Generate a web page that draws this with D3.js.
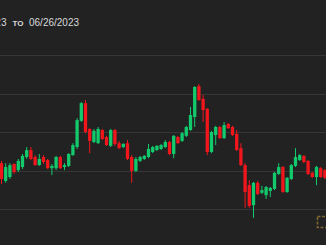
<!DOCTYPE html>
<html>
<head>
<meta charset="utf-8">
<script src="https://cdn.jsdelivr.net/npm/d3@7"></script>
<style>
  html, body { margin: 0; padding: 0; background: #222222; overflow: hidden; }
</style>
</head>
<body>
<div id="chart"></div>
<script>
// period label, the start date is clipped off at the left edge
var rangeFrom = "03/28/2023";
var rangeTo = "06/26/2023";

// price gridlines
var gridLevels = [10, 20, 30, 40, 50];

// daily candles
var opens  = [21.9, 17.3, 18.3, 21.7, 20.1, 20.9, 23.5, 25.3, 23.5, 21.4,
              23.5, 22.7, 20.6, 20.6, 23.5, 20.9, 21.2, 24.0, 26.1, 32.9,
              37.5, 30.8, 27.4, 27.1, 30.5, 28.7, 26.4, 30.5, 27.1, 26.1,
              27.1, 23.5, 19.9, 22.5, 23.0, 23.5, 24.8, 25.3, 25.6, 26.1,
              27.4, 24.3, 28.7, 27.7, 29.0, 30.5, 33.9, 41.9, 38.6, 36.0,
              24.8, 29.2, 31.3, 28.4, 32.1, 31.3, 29.5, 25.8, 21.4, 16.2,
              11.0, 16.8, 14.2, 13.6, 14.7, 15.2, 19.1, 20.9, 14.4, 17.8,
              21.2, 22.7, 23.8, 22.5, 19.4, 18.3, 20.6, 20.1];
var highs  = [22.5, 21.9, 21.9, 21.9, 23.0, 24.3, 26.1, 26.1, 24.0, 24.3,
              24.0, 23.0, 21.7, 23.8, 23.8, 21.9, 24.5, 27.1, 33.6, 37.8,
              38.3, 31.0, 30.8, 31.3, 30.8, 29.0, 30.8, 30.8, 27.7, 27.1,
              27.9, 24.0, 23.5, 23.8, 24.0, 26.9, 26.4, 26.6, 26.9, 27.9,
              27.7, 29.2, 29.0, 30.0, 31.6, 36.5, 41.9, 42.5, 39.6, 36.2,
              30.3, 31.6, 31.6, 32.6, 32.3, 31.6, 30.5, 27.1, 21.9, 17.5,
              17.0, 17.3, 16.0, 16.0, 15.7, 19.6, 21.9, 21.2, 18.3, 21.7,
              25.8, 24.3, 24.0, 22.7, 19.6, 21.2, 20.9, 20.4];
var lows   = [16.5, 16.8, 17.8, 19.1, 19.6, 20.4, 23.0, 22.7, 21.2, 21.2,
              21.7, 20.4, 18.8, 20.1, 20.4, 20.1, 20.9, 23.8, 25.6, 32.6,
              29.7, 24.5, 27.1, 26.9, 27.9, 26.4, 26.1, 26.4, 25.6, 25.8,
              22.7, 16.8, 19.6, 22.2, 22.7, 23.2, 24.5, 25.1, 25.3, 25.8,
              24.0, 23.2, 26.9, 27.4, 28.7, 30.3, 31.3, 38.1, 32.6, 24.0,
              24.5, 26.6, 28.2, 28.2, 30.8, 29.0, 25.1, 21.2, 10.3, 10.3,
               7.7, 13.6, 13.9, 12.6, 13.1, 14.9, 18.8, 14.2, 14.2, 17.5,
              20.9, 22.5, 21.9, 18.8, 18.1, 16.2, 18.1, 17.8];
var closes = [17.8, 20.9, 21.4, 19.6, 22.5, 23.8, 25.3, 23.0, 21.4, 23.0,
              22.2, 20.6, 21.2, 23.5, 20.6, 21.4, 24.3, 26.6, 33.1, 37.5,
              30.0, 27.7, 30.3, 30.8, 28.2, 26.6, 30.5, 26.9, 25.8, 26.9,
              23.0, 19.9, 23.0, 23.5, 23.8, 25.6, 26.1, 26.4, 26.6, 27.4,
              24.3, 29.0, 27.1, 29.7, 31.3, 34.4, 41.7, 38.3, 35.7, 24.8,
              30.0, 31.3, 28.4, 31.8, 31.0, 29.2, 25.3, 21.4, 14.4, 10.8,
              16.8, 13.9, 14.9, 15.7, 15.5, 19.4, 20.9, 14.4, 18.1, 21.4,
              23.5, 24.0, 22.2, 19.1, 18.3, 20.9, 18.3, 18.1];

var width = 326, height = 245;
var upColor = "#12c96c", downColor = "#f0161c";

var candles = opens.map(function(o, i) {
    return {i: i, open: o, high: highs[i], low: lows[i], close: closes[i]};
});

var xScale = d3.scaleLinear().domain([0, candles.length - 1]).range([1.5, 324.9]);
var yScale = d3.scaleLinear().domain([10, 50]).range([209, 55]);
var bodyWidth = 3.3;

var svg = d3.select("#chart").append("svg")
    .attr("width", width)
    .attr("height", height)
    .style("display", "block");

svg.append("rect")
    .attr("width", width)
    .attr("height", height)
    .attr("fill", "#222222");

// title
var title = svg.append("g")
    .attr("font-family", "'Liberation Sans', Arial, sans-serif")
    .attr("fill", "#d9d9d9");
title.append("text")
    .attr("x", 6.5).attr("y", 25.5)
    .attr("text-anchor", "end")
    .attr("font-size", 10)
    .text(rangeFrom);
title.append("text")
    .attr("x", 12.5).attr("y", 25.5)
    .attr("font-size", 8)
    .attr("font-weight", "bold")
    .text("TO");
title.append("text")
    .attr("x", 29).attr("y", 25.5)
    .attr("font-size", 10)
    .text(rangeTo);

// gridlines
svg.append("g")
    .selectAll("line")
    .data(gridLevels)
    .enter()
    .append("line")
    .attr("x1", 0).attr("x2", width)
    .attr("y1", function(d) { return Math.round(yScale(d)) + 0.5; })
    .attr("y2", function(d) { return Math.round(yScale(d)) + 0.5; })
    .attr("stroke", "#363636")
    .attr("stroke-width", 1);

// candles
var g = svg.append("g")
    .selectAll("g")
    .data(candles)
    .enter()
    .append("g")
    .attr("fill", function(d) { return d.close >= d.open ? upColor : downColor; })
    .attr("stroke", function(d) { return d.close >= d.open ? upColor : downColor; });

g.append("line")
    .attr("x1", function(d) { return xScale(d.i); })
    .attr("x2", function(d) { return xScale(d.i); })
    .attr("y1", function(d) { return yScale(d.high); })
    .attr("y2", function(d) { return yScale(d.low); })
    .attr("stroke-width", 1);

g.append("rect")
    .attr("x", function(d) { return xScale(d.i) - bodyWidth / 2; })
    .attr("width", bodyWidth)
    .attr("y", function(d) { return yScale(Math.max(d.open, d.close)); })
    .attr("height", function(d) {
        return Math.max(1, Math.abs(yScale(d.open) - yScale(d.close)));
    })
    .attr("stroke", "none");

// watermark logo, clipped at the right edge
svg.append("rect")
    .attr("x", 317.5).attr("y", 216.5)
    .attr("width", 11).attr("height", 11)
    .attr("fill", "none")
    .attr("stroke", "#7d6630")
    .attr("stroke-width", 1.6)
    .attr("stroke-dasharray", "3,1.5");
</script>
</body>
</html>
